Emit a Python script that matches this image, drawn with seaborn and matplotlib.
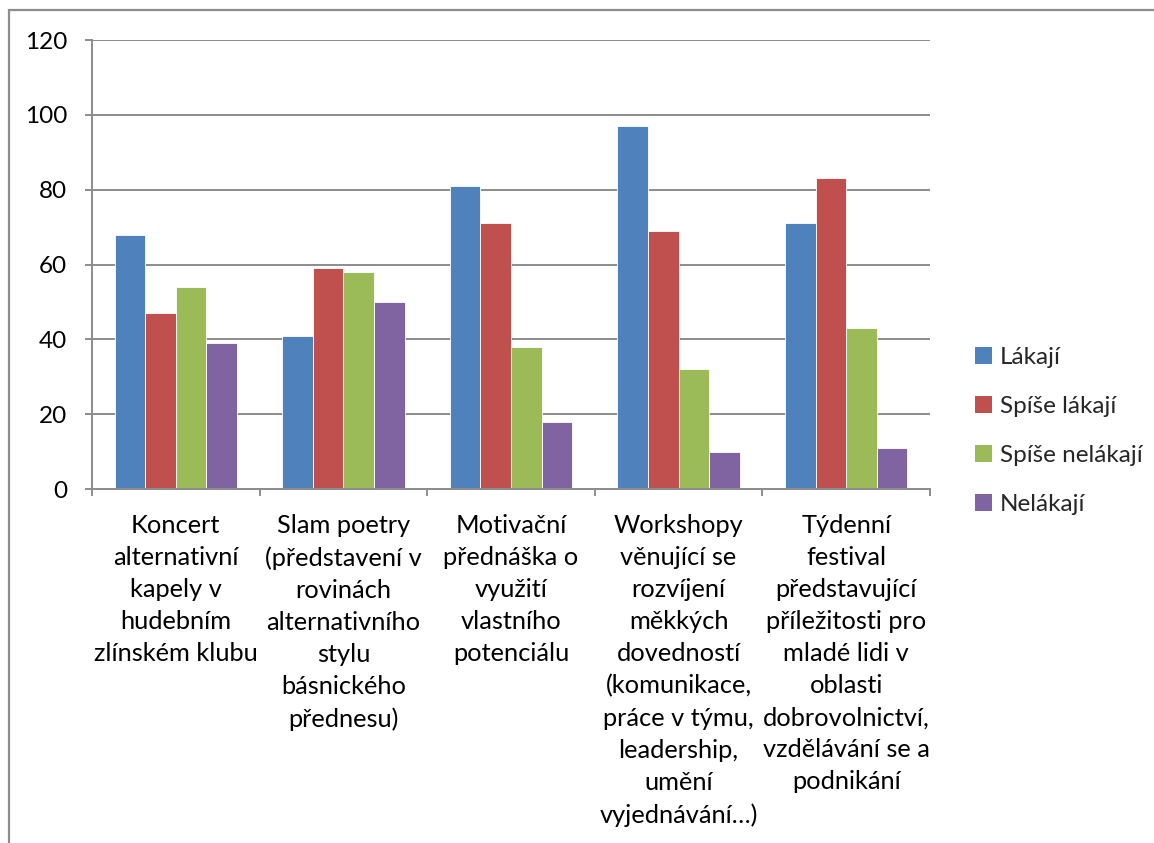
import matplotlib
matplotlib.use("Agg")
import matplotlib.pyplot as plt
import matplotlib.patches as mpatches
from matplotlib.ticker import FixedLocator
import seaborn as sns
import pandas as pd

# Survey categories (events) and answers per response option
categories = [
    "Koncert\nalternativní\nkapely v\nhudebním\nzlínském klubu",
    "Slam poetry\n(představení v\nrovinách\nalternativního\nstylu\nbásnického\npřednesu)",
    "Motivační\npřednáška o\nvyužití\nvlastního\npotenciálu",
    "Workshopy\nvěnující se\nrozvíjení\nměkkých\ndovedností\n(komunikace,\npráce v týmu,\nleadership,\numění\nvyjednávání…)",
    "Týdenní\nfestival\npředstavující\npříležitosti pro\nmladé lidi v\noblasti\ndobrovolnictví,\nvzdělávání se a\npodnikání",
]
series_names = ["Lákají", "Spíše lákají", "Spíše nelákají", "Nelákají"]
lakaji = [68, 41, 81, 97, 71]
spise_lakaji = [47, 59, 71, 69, 83]
spise_nelakaji = [54, 58, 38, 32, 43]
nelakaji = [39, 50, 18, 10, 11]
y_ticks = [0, 20, 40, 60, 80, 100, 120]

palette = ["#4F81BD", "#C0504D", "#9BBB59", "#8064A2"]

rows = []
for name, vals in zip(series_names, [lakaji, spise_lakaji, spise_nelakaji, nelakaji]):
    for cat, v in zip(categories, vals):
        rows.append({"kategorie": cat, "odpověď": name, "počet": v})
df = pd.DataFrame(rows)

sns.set_theme(style="white")
plt.rcParams["font.family"] = ["Lato", "DejaVu Sans"]

W, H = 1154, 843
fig = plt.figure(figsize=(W / 100, H / 100), dpi=100)
ax = fig.add_axes([92 / W, 1 - 489 / H, (930 - 92) / W, (489 - 40) / H])

sns.barplot(
    data=df, x="kategorie", y="počet", hue="odpověď",
    hue_order=series_names, order=categories, palette=palette,
    width=0.73, saturation=1, edgecolor="white", linewidth=0.6,
    errorbar=None, legend=False, ax=ax,
)

grid_color = "#8C8C8C"
ax.set_ylim(0, 120)
ax.set_xlim(-0.5, len(categories) - 0.5)
ax.set_yticks(y_ticks)
ax.set_yticklabels([str(t) for t in y_ticks])
ax.yaxis.grid(True, color=grid_color, linewidth=1.4)
ax.set_axisbelow(True)
ax.set_xlabel("")
ax.set_ylabel("")

for side in ["top", "right"]:
    ax.spines[side].set_visible(False)
for side in ["left", "bottom"]:
    ax.spines[side].set_color(grid_color)
    ax.spines[side].set_linewidth(1.4)

# category boundary ticks below the axis
ax.xaxis.set_minor_locator(FixedLocator([i - 0.5 for i in range(len(categories) + 1)]))
ax.tick_params(axis="x", which="minor", length=5, width=1.4, color=grid_color, direction="out", bottom=True)
ax.tick_params(axis="x", which="major", length=0, pad=18, labelsize=18.3, labelcolor="black")
ax.tick_params(axis="y", length=5, width=1.4, color=grid_color, direction="out", left=True, pad=13,
               labelsize=17.5, labelcolor="black")
for lbl in ax.get_xticklabels():
    lbl.set_linespacing(1.475)
    lbl.set_verticalalignment("top")

handles = [mpatches.Patch(facecolor=c, edgecolor="none", label=n) for c, n in zip(palette, series_names)]
fig.legend(
    handles=handles, loc="center left", bbox_to_anchor=(965 / W, 1 - 431 / H),
    frameon=False, fontsize=17.5, handlelength=0.7, handleheight=0.7,
    handletextpad=0.35, labelspacing=1.15, borderaxespad=0,
)

# chart area border (left and top edges visible)
fig.add_artist(mpatches.Rectangle((9 / W, -0.1), 1.2, 1 - 10 / H + 0.1, transform=fig.transFigure,
                                  fill=False, edgecolor="#8C8C8C", linewidth=1.6))

fig.savefig("out.png", dpi=100, facecolor="white")
